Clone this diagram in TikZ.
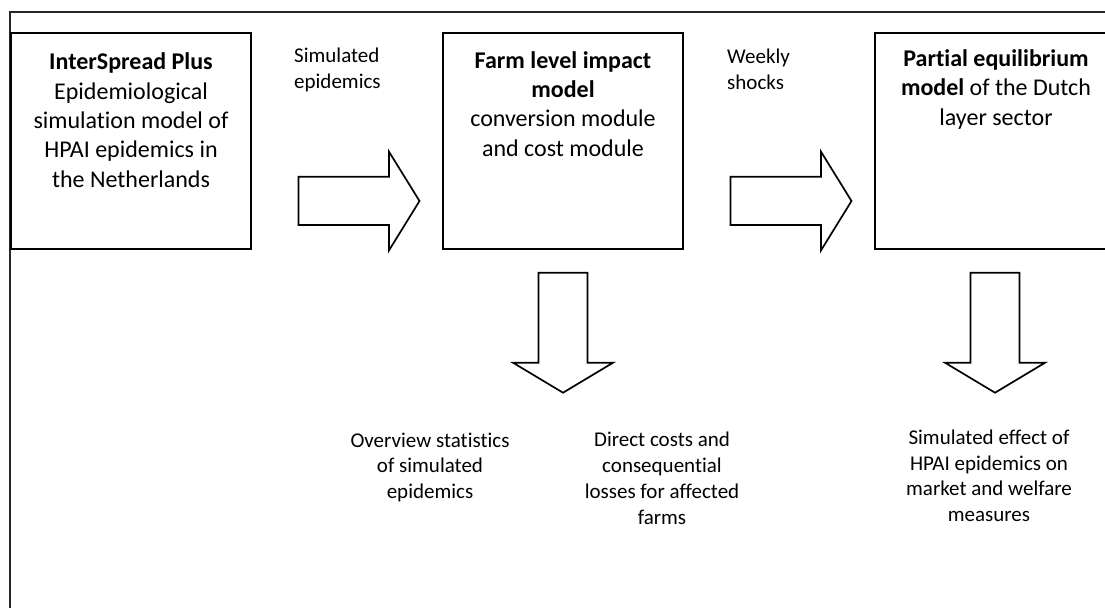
\documentclass[tikz,border=0pt]{standalone}
\usepackage{fontspec}
\setmainfont{Carlito}[Ligatures=NoCommon]
\begin{document}
\begin{tikzpicture}[x=1pt,y=-1pt,
  box/.style={draw, line width=2pt, minimum width=240pt, minimum height=216pt, inner sep=0pt},
  bigtxt/.style={font=\fontsize{24}{29.3}\selectfont, align=center, inner sep=0pt, anchor=base},
  smalltxt/.style={font=\fontsize{21}{25.7}\selectfont, inner sep=0pt, anchor=base},
  blockarrow/.style={draw, line width=1.7pt, line join=miter, fill=white},
  rarrow/.pic={\draw[blockarrow] (0,0) -- (90.5,0) -- (90.5,-25) -- (121,24.3) -- (90.5,73.7) -- (90.5,48.3) -- (0,48.3) -- cycle;},
  darrow/.pic={\draw[blockarrow] (0,0) -- (49,0) -- (49,90) -- (74.5,90) -- (24.5,120) -- (-25.5,90) -- (0,90) -- cycle;}]
\useasboundingbox (0,0) rectangle (1105,608);
\clip (0,0) rectangle (1105,608);
\draw[line width=2pt, black!85] (9.5,608) -- (9.5,11.5) -- (1105,11.5);
% boxes
\node[box] (b1) at (131,140.5) {};
\node[box] (b2) at (563,140.5) {};
\node[box] (b3) at (995,140.5) {};
% box texts (base anchor = baseline of last line)
\node[bigtxt] (t1) at (131,187) {\textbf{InterSpread Plus}\\Epidemiological\\simulation model of\\HPAI epidemics in\\the Netherlands};
\node[bigtxt] (t2) at (563,156) {\textbf{Farm level impact}\\\textbf{model}\\conversion module\\and cost module};
\node[bigtxt] (t3) at (996,125) {\textbf{Partial equilibrium}\\\textbf{model} of the Dutch\\layer sector};
% arrows
\pic at (298.5,176.7) {rarrow};
\pic at (730.5,176.7) {rarrow};
\pic at (538.5,272.7) {darrow};
\pic at (970.5,272.7) {darrow};
% labels
\node[smalltxt, anchor=base west, align=left] (l1) at (294,88.5) {Simulated\\epidemics};
\node[smalltxt, anchor=base west, align=left] (l2) at (727,89) {Weekly\\shocks};
\node[smalltxt, align=center] (o1) at (430,498.5) {Overview statistics\\of simulated\\epidemics};
\node[smalltxt, align=center] (o2) at (662,524) {Direct costs and\\consequential\\losses for affected\\farms};
\node[smalltxt, align=center] (o3) at (989,521.5) {Simulated effect of\\HPAI epidemics on\\market and welfare\\measures};
\end{tikzpicture}
\end{document}
